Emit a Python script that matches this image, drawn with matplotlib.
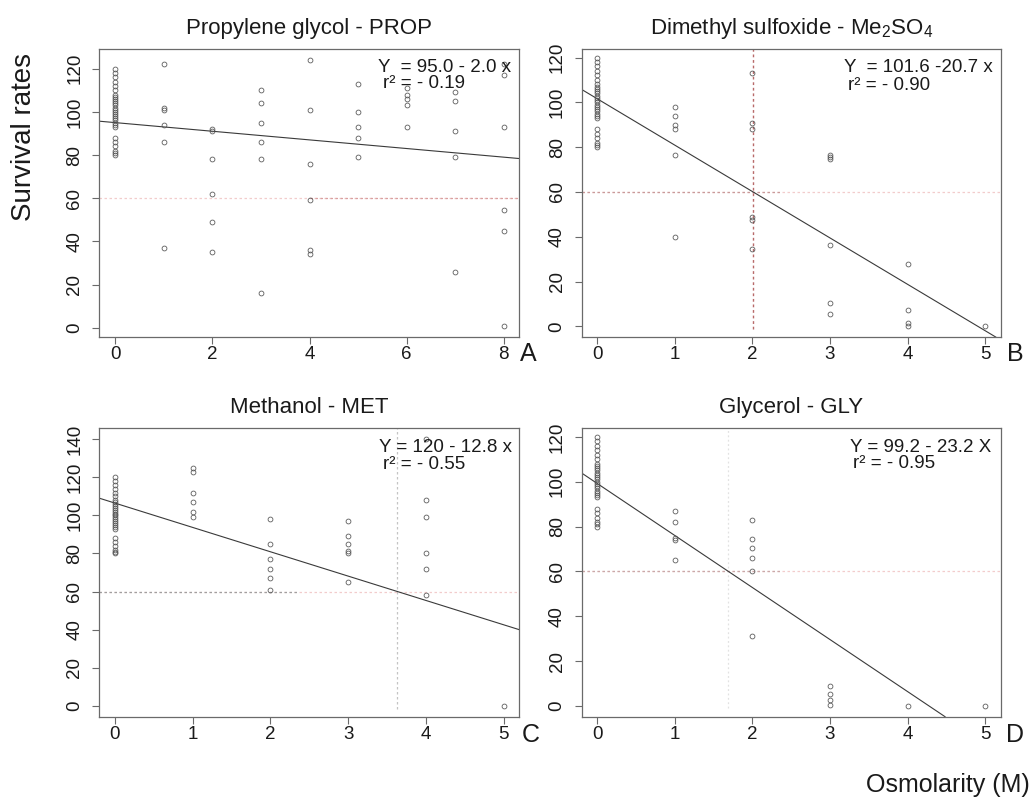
import matplotlib
matplotlib.use("Agg")
import matplotlib.pyplot as plt

plt.rcParams["font.family"] = ["Liberation Sans", "DejaVu Sans"]
plt.rcParams["mathtext.fontset"] = "custom"
plt.rcParams["mathtext.rm"] = "Liberation Sans"
plt.rcParams["mathtext.it"] = "Liberation Sans:italic"

# Survival (%) of the untreated controls, plotted at 0 M in every panel
control = [80, 81, 82, 84, 86, 88, 93, 94, 95, 96, 97, 98, 99, 100, 101,
           102, 103, 104, 105, 106, 107, 108, 110, 112, 114, 116, 118, 120]

# Survival (%) by osmolarity (M) for each cryoprotectant
prop = {1: [122, 102, 101, 94, 86, 37], 2: [92, 91, 78, 62, 49, 35],
        3: [110, 104, 95, 86, 78, 16], 4: [124, 101, 76, 59, 36, 34],
        5: [113, 100, 93, 88, 79], 6: [111, 108, 106, 103, 93],
        7: [109, 105, 91, 79, 26], 8: [122, 117, 93, 54.5, 45, 0.6]}
dmso = {1: [98, 94, 90, 88, 76.5, 40], 2: [113, 91, 88, 49, 47.5, 34.5],
        3: [76.5, 75.5, 74.5, 36.5, 10.5, 5.5], 4: [28, 7.5, 1.5, 0],
        5: [0]}
met = {1: [125, 123, 112, 107, 102, 99], 2: [98, 85, 77, 72, 67, 61],
       3: [97, 89, 85, 81.5, 80, 65], 4: [140, 108, 99, 80, 72, 58],
       5: [0]}
gly = {1: [87, 82, 75, 74, 65], 2: [83, 74.5, 70.5, 66, 60, 31],
       3: [9, 5.5, 2.5, 0.5], 4: [0], 5: [0]}

# Fitted regression lines (intercept, slope)
fit_intercepts = [95.0, 101.6, 106.5, 99.2]
fit_slopes = [-2.0, -20.7, -12.8, -23.2]

titles = ["Propylene glycol - PROP",
          r"Dimethyl sulfoxide - Me$_\mathrm{2}$SO$_\mathrm{4}$",
          "Methanol - MET", "Glycerol - GLY"]
equations = ["Y  = 95.0 - 2.0 x", "Y  = 101.6 -20.7 x",
             "Y = 120 - 12.8 x", "Y = 99.2 - 23.2 X"]
r2_labels = ["r\u00b2 = - 0.19", "r\u00b2 = - 0.90",
             "r\u00b2 = - 0.55", "r\u00b2 = - 0.95"]
letters = ["A", "B", "C", "D"]
threshold = 60

W, H = 1033, 801
fig = plt.figure(figsize=(W / 100, H / 100), dpi=100)
fig.patch.set_facecolor("white")


def px_axes(l, t, r, b):
    return [l / W, 1 - b / H, (r - l) / W, (b - t) / H]


boxes = [px_axes(99.3, 49, 519.3, 337), px_axes(581.7, 49, 1000.7, 337),
         px_axes(99.3, 428.3, 519.3, 716.7), px_axes(581.7, 428.3, 1000.7, 716.7)]
xlims = [(-0.33, 8.32), (-0.2, 5.2), (-0.2, 5.2), (-0.2, 5.2)]
ylims = [(-4.3, 129.1), (-4.7, 123.8), (-5.8, 145.8), (-4.8, 123.8)]
xticks = [range(0, 9, 2), range(0, 6), range(0, 6), range(0, 6)]
yticks = [range(0, 121, 20), range(0, 121, 20), range(0, 141, 20), range(0, 121, 20)]
datasets = [prop, dmso, met, gly]
eq_pos = [(0.664, 0.937), (0.626, 0.937), (0.666, 0.935), (0.641, 0.935)]
r2_pos = [(0.676, 0.880), (0.636, 0.873), (0.675, 0.876), (0.648, 0.878)]

frame_col = "#6a6a6a"

for i in range(4):
    ax = fig.add_axes(boxes[i])
    ax.set_xlim(*xlims[i])
    ax.set_ylim(*ylims[i])
    b, m = fit_intercepts[i], fit_slopes[i]

    # 60 % survival reference lines
    ax.axhline(threshold, color="#f2cccc", lw=0.9, ls=(0, (2, 2)), zorder=1)
    cross = (threshold - b) / m
    if i == 0:
        ax.hlines(threshold, 4, xlims[i][1], color="#d9a0a0", lw=0.9,
                  ls=(0, (2, 2)), zorder=1)
    else:
        dark = ["", "#c99a9a", "#a0a0a0", "#caa8a8"][i]
        ax.hlines(threshold, xlims[i][0], 2.35, color=dark, lw=0.9,
                  ls=(0, (2, 2)), zorder=1)
    if i == 1:
        ax.vlines(cross, -1, ylims[i][1], color="#b86a6a", lw=1.0,
                  ls=(0, (2, 2)), zorder=1)
    elif i == 2:
        ax.vlines(cross, -1.5, ylims[i][1], color="#c4c4c4", lw=0.9,
                  ls=(0, (2, 2)), zorder=1)
    elif i == 3:
        ax.vlines(cross, -1, ylims[i][1], color="#e2e2e2", lw=0.9,
                  ls=(0, (1.5, 2)), zorder=1)

    # regression line
    ax.axline((0, b), slope=m, color="#3a3a3a", lw=0.8, zorder=2)

    # observations
    xs = [0] * len(control)
    ys = list(control)
    for dose, vals in datasets[i].items():
        xs += [dose] * len(vals)
        ys += vals
    ax.plot(xs, ys, ls="none", marker="o", ms=3.5, mfc="none",
            mec="#505050", mew=0.55, zorder=3)

    ax.set_xticks(list(xticks[i]))
    ax.set_yticks(list(yticks[i]))
    ax.tick_params(axis="both", direction="out", length=5, width=0.8,
                   color=frame_col, labelsize=13.5, labelcolor="#1a1a1a")
    ax.tick_params(axis="x", pad=1.5)
    ax.tick_params(axis="y", pad=6.5)
    for lab in ax.get_yticklabels():
        lab.set_rotation(90)
        lab.set_va("center")
    for sp in ax.spines.values():
        sp.set_color(frame_col)
        sp.set_linewidth(0.9)

    ax.set_title(titles[i], fontsize=16, pad=11, color="#1a1a1a")
    ax.text(*eq_pos[i], equations[i], transform=ax.transAxes, fontsize=13.5,
            ha="left", va="center", color="#1a1a1a", zorder=4)
    ax.text(*r2_pos[i], r2_labels[i], transform=ax.transAxes, fontsize=13.5,
            ha="left", va="center", color="#1a1a1a", zorder=4)

# panel letters
for (x, y), s in zip([(528, 354), (1015, 354), (531, 735), (1015, 735)], letters):
    fig.text(x / W, 1 - y / H, s, fontsize=18, ha="center", va="center",
             color="#1a1a1a")

fig.text(24 / W, 1 - 137 / H, "Survival rates", rotation=90, fontsize=20,
         ha="center", va="center", color="#1a1a1a")
fig.text(948 / W, 1 - 785 / H, "Osmolarity (M)", fontsize=18,
         ha="center", va="center", color="#1a1a1a")

fig.savefig("out.png", dpi=100, facecolor="white")
